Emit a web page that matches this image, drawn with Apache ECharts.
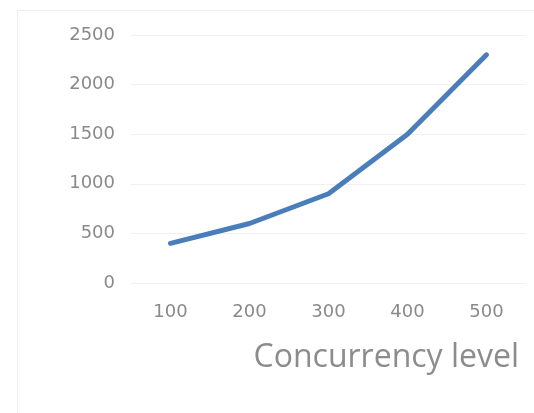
<!DOCTYPE html>
<html>
<head>
<meta charset="utf-8">
<script src="https://cdn.jsdelivr.net/npm/echarts@6/dist/echarts.min.js"></script>
<style>html,body{margin:0;padding:0;background:#fff}#c{width:534px;height:413px}</style>
</head>
<body>
<div id="c"></div>
<script>
var categories = ['100', '200', '300', '400', '500'];
var values = [400, 600, 900, 1500, 2300];
var yTicks = [0, 500, 1000, 1500, 2000, 2500];
var xAxisName = 'Concurrency level';

var chart = echarts.init(document.getElementById('c'), null, {renderer: 'canvas'});
chart.setOption({
  animation: false,
  backgroundColor: '#ffffff',
  graphic: [{
    type: 'polyline', silent: true,
    shape: {points: [[17.5, 413], [17.5, 10.5], [534, 10.5]]},
    style: {fill: null, stroke: '#efefef', lineWidth: 1}
  }],
  grid: {left: 131, right: 8, top: 35, bottom: 130, containLabel: false},
  xAxis: {
    type: 'category',
    data: categories,
    boundaryGap: true,
    axisLine: {show: false},
    axisTick: {show: false},
    axisLabel: {color: '#8a8a8a', fontFamily: 'DejaVu Sans', fontSize: 18, margin: 20},
    name: xAxisName,
    nameLocation: 'end',
    nameGap: -7,
    nameTextStyle: {color: '#8c8c8c', fontFamily: 'Open Sans', fontSize: 32, align: 'right', verticalAlign: 'top', padding: [59, 0, 0, 0]}
  },
  yAxis: {
    type: 'value',
    min: yTicks[0],
    max: yTicks[yTicks.length - 1],
    interval: 500,
    axisLine: {show: false},
    axisTick: {show: false},
    axisLabel: {color: '#8a8a8a', fontFamily: 'DejaVu Sans', fontSize: 18, margin: 16,
      formatter: function (v) { return String(v); }},
    splitLine: {lineStyle: {color: '#f0f0f0', width: 1}}
  },
  series: [{
    type: 'line',
    data: values,
    showSymbol: false,
    symbol: 'none',
    lineStyle: {color: '#4a7ebb', width: 5, cap: 'round', join: 'round'}
  }]
});
</script>
</body>
</html>
